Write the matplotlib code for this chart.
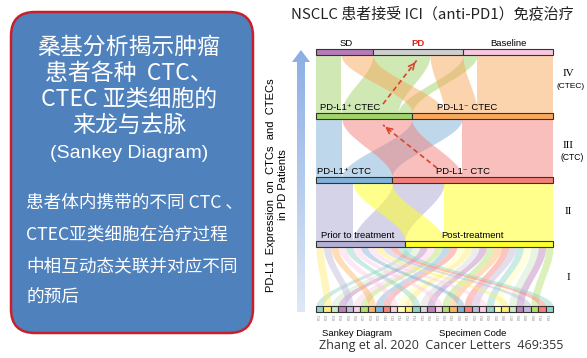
import numpy as np
import matplotlib.pyplot as plt
from matplotlib.patches import FancyBboxPatch, Rectangle, Polygon

plt.rcParams['font.family'] = ['Liberation Sans', 'DejaVu Sans']
cjk = ['Noto Sans CJK SC', 'DejaVu Sans']

# ---- data ----
top_nodes = ['SD', 'PD', 'Baseline']
ctec_nodes = ['PD-L1⁺ CTEC', 'PD-L1⁻ CTEC']
ctc_nodes = ['PD-L1⁺ CTC', 'PD-L1⁻ CTC']
treat_nodes = ['Prior to treatment', 'Post-treatment']

# rows = lower node, cols = upper node
flow_ctec_top = [[3.4, 7.7, 1.9],
                 [4.3, 4.45, 10.25]]
flow_ctc_ctec = [[3.5, 6.75],
                 [9.45, 12.3]]
flow_treat_ctc = [[5.0, 7.0],
                  [5.3, 14.7]]

# specimen -> treatment group (0 prior, 1 post)
spec_group = [1, 0, 1, 1, 0, 1, 1, 0, 1, 1, 0, 1, 1, 0, 1, 1,
              0, 1, 1, 0, 1, 1, 0, 1, 1, 0, 1, 1, 0, 1, 0, 0]
spec_colors = ['#8dd3c7', '#ffed6f', '#ccebc5', '#bc80bd', '#bebada', '#fccde5', '#b3de69', '#fdb462',
               '#80b1d3', '#fb8072', '#fccde5', '#ffffb3', '#ffed6f', '#8dd3c7', '#d9d9d9', '#bc80bd',
               '#fccde5', '#b3de69', '#fdb462', '#80b1d3', '#fb8072', '#bebada', '#fccde5', '#8dd3c7',
               '#ffffb3', '#ffed6f', '#ccebc5', '#bc80bd', '#bebada', '#b3de69', '#fb8072', '#8dd3c7']
spec_codes = ['P%02d' % (i + 1) for i in range(len(spec_group))]

top_colors = ['#b57cb9', '#cfcfcf', '#f8c8e0']
ctec_colors = ['#a0d36a', '#f8a85c']
ctc_colors = ['#7fb1d9', '#f2817a']
treat_colors = ['#b4b0d5', '#ffff2e']

# ---- layout (pixels) ----
fig = plt.figure(figsize=(5.87, 3.58), dpi=100)
ax = fig.add_axes([0, 0, 1, 1])
ax.set_xlim(0, 587)
ax.set_ylim(358, 0)
ax.axis('off')

X0 = 316
total = float(np.sum(flow_ctec_top))
k = 237 / total
bar_h = 6
y_top, y_ctec, y_ctc, y_treat, y_spec = 49, 113, 177, 241, 306


def band(xb0, xb1, xt0, xt1, yb, yt, color, alpha):
    t = np.linspace(0, 1, 80)
    s = 3 * t**2 - 2 * t**3
    y = yb + (yt - yb) * t
    ax.fill_betweenx(y, xb0 + (xt0 - xb0) * s, xb1 + (xt1 - xb1) * s,
                     color=color, alpha=alpha, lw=0)


def level(F, y_low, y_up, colors, alpha):
    F = np.array(F, dtype=float)
    src_start = X0 + np.concatenate([[0], np.cumsum(F.sum(1))[:-1]]) * k
    tgt_start = X0 + np.concatenate([[0], np.cumsum(F.sum(0))[:-1]]) * k
    src_off = np.zeros(F.shape[0])
    tgt_off = np.zeros(F.shape[1])
    for i in range(F.shape[0]):
        for j in range(F.shape[1]):
            w = F[i, j] * k
            xb = src_start[i] + src_off[i]
            xt = tgt_start[j] + tgt_off[j]
            band(xb, xb + w, xt, xt + w, y_low, y_up + bar_h, colors[i], alpha)
            src_off[i] += w
            tgt_off[j] += w


def bars(vals, y, colors):
    x = X0
    for v, c in zip(vals, colors):
        ax.add_patch(Rectangle((x, y), v * k, bar_h, fc=c, ec='#333333', lw=0.8))
        x += v * k


level(flow_ctec_top, y_ctec, y_top, ctec_colors, 0.5)
level(flow_ctc_ctec, y_ctc, y_ctec, ctc_colors, 0.5)
level(flow_treat_ctc, y_treat, y_ctc, treat_colors, 0.55)

# specimen flows
slot = [0, 0]
prior_n = spec_group.count(0)
for i, g in enumerate(spec_group):
    xb = X0 + i * k
    xt = X0 + (slot[g] + (prior_n if g else 0)) * k
    slot[g] += 1
    band(xb, xb + k, xt, xt + k, y_spec, y_treat + bar_h, spec_colors[i], 0.45)

bars(np.sum(flow_ctec_top, 0), y_top, top_colors)
bars(np.sum(flow_ctec_top, 1), y_ctec, ctec_colors)
bars(np.sum(flow_ctc_ctec, 1), y_ctc, ctc_colors)
bars(np.sum(flow_treat_ctc, 1), y_treat, treat_colors)
bars([1] * len(spec_group), y_spec, spec_colors)

for i, code in enumerate(spec_codes):
    ax.text(X0 + (i + 0.5) * k, y_spec + bar_h + 1.5, code, fontsize=2.6, rotation=90,
            ha='center', va='top', color='#8a8a8a')

# node labels
fs = 6.8
ax.text(346, 43, 'SD', fontsize=fs, ha='center', va='center')
ax.text(418, 43, 'PD', fontsize=fs, ha='center', va='center', color='#e0251b', fontweight='bold')
ax.text(508, 43, 'Baseline', fontsize=fs, ha='center', va='center')
ax.text(350, 107, ctec_nodes[0], fontsize=fs, ha='center', va='center')
ax.text(467, 107, ctec_nodes[1], fontsize=fs, ha='center', va='center')
ax.text(344, 171, ctc_nodes[0], fontsize=fs, ha='center', va='center')
ax.text(463, 171, ctc_nodes[1], fontsize=fs, ha='center', va='center')
ax.text(358, 236, treat_nodes[0], fontsize=fs, ha='center', va='center')
ax.text(472, 236, treat_nodes[1], fontsize=fs, ha='center', va='center')
ax.text(357, 333, 'Sankey Diagram', fontsize=fs, ha='center', va='center')
ax.text(473, 333, 'Specimen Code', fontsize=fs, ha='center', va='center')

# dashed red arrows
for (x1, y1), (x2, y2) in [((383, 104), (417, 60)), ((437, 168), (383, 125))]:
    ax.plot([x1, x2], [y1, y2], ls=(0, (3, 2)), color='#d9452b', lw=1.2)
    ax.annotate('', xy=(x2, y2), xytext=(x2 - (x2 - x1) * 0.15, y2 - (y2 - y1) * 0.15),
                arrowprops=dict(arrowstyle='->', color='#d9452b', lw=1.2))

# roman numerals
rom = dict(fontsize=8, family=['Liberation Serif'], ha='center', va='center')
ax.text(568, 73, 'IV', **rom)
ax.text(571, 87, '(CTEC)', fontsize=6, ha='center', va='center')
ax.text(568, 145, 'III', **rom)
ax.text(572, 158, '(CTC)', fontsize=6.2, ha='center', va='center')
ax.text(568, 211, 'II', **rom)
ax.text(568, 278, 'I', **rom)

# gradient arrow on the left of the diagram
arrow = Polygon([(297, 312), (297, 62), (292, 62), (301, 50), (310, 62), (305, 62), (305, 312)],
                closed=True, fc='none', ec='none')
ax.add_patch(arrow)
grad = np.linspace(0, 1, 256).reshape(-1, 1)
im = ax.imshow(grad, extent=(290, 312, 314, 48), cmap=plt.matplotlib.colors.LinearSegmentedColormap.from_list(
    'ar', ['#8aaee3', '#dfe8f6']), aspect='auto', zorder=1)
im.set_clip_path(arrow)
ax.set_xlim(0, 587)
ax.set_ylim(358, 0)

ax.text(277, 185, 'PD-L1  Expression  on  CTCs  and  CTECs\nin PD Patients', fontsize=8,
        rotation=90, ha='center', va='center', linespacing=1.2)

# title and citation
ax.text(432, 14, 'NSCLC 患者接受 ICI（anti-PD1）免疫治疗', fontsize=10.8, family=cjk,
        ha='center', va='center', color='#222222')
ax.text(441, 346, 'Zhang et al. 2020  Cancer Letters  469:355', fontsize=9,
        family=['Open Sans'], ha='center', va='center', color='#333333')

# left blue box
box = FancyBboxPatch((11, 12), 242, 321, boxstyle='round,pad=0,rounding_size=24',
                     fc='#4f81bd', ec='#c8202a', lw=1.8)
ax.add_patch(box)
head = ['桑基分析揭示肿瘤', '患者各种  CTC、', 'CTEC 亚类细胞的', '来龙与去脉']
for i, s in enumerate(head):
    ax.text(129, 47 + i * 26, s, fontsize=16.5, family=cjk, color='white', ha='center', va='center')
ax.text(129, 153, '(Sankey Diagram)', fontsize=14, color='white', ha='center', va='center')
body = ['患者体内携带的不同 CTC 、', 'CTEC亚类细胞在治疗过程', '中相互动态关联并对应不同', '的预后']
for i, s in enumerate(body):
    ax.text(26, 203 + i * 31.5, s, fontsize=12.7, family=cjk, color='white', ha='left', va='center')

plt.savefig('out.png', dpi=100)
